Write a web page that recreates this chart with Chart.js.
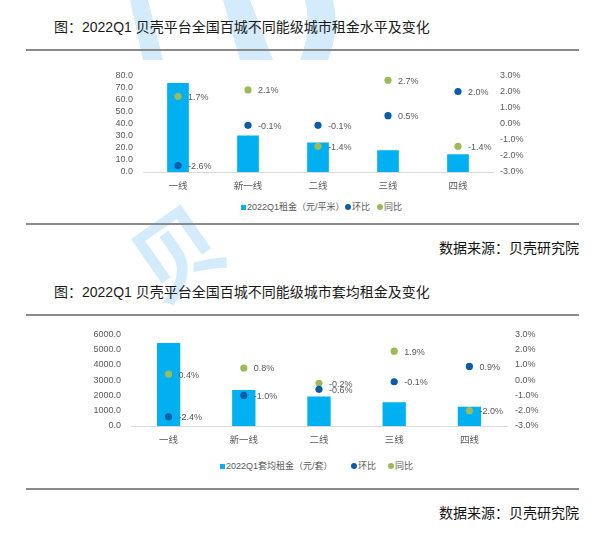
<!DOCTYPE html>
<html><head><meta charset="utf-8">
<script src="https://cdn.jsdelivr.net/npm/chart.js@4.4.1/dist/chart.umd.min.js"></script>
<style>
body{margin:0;background:#fff;width:602px;height:537px;position:relative;overflow:hidden;font-family:"Liberation Sans","Noto Sans CJK SC",sans-serif;}
.abs{position:absolute;}
.title{left:54px;font-size:14px;color:#1a1a1a;white-space:nowrap;line-height:14px;}
.rule{left:26px;width:553px;height:2px;background:#8a8a8a;}
.src{right:23px;font-size:14px;color:#111;line-height:14px;white-space:nowrap;}
.leg{font-size:9px;color:#595959;line-height:10px;white-space:nowrap;font-family:"Liberation Sans Narrow","Liberation Sans","Noto Sans CJK SC",sans-serif;display:flex;align-items:center;}
.sw{display:inline-block;margin-right:1px;}
.wm{position:absolute;left:0;top:0;}
</style></head>
<body>
<svg class="wm" width="602" height="537">
  <g fill="#d3ebfb">
    <polygon points="130,0 148,0 163,60 143,60"/>
    <polygon points="223,0 250,0 273,60 240,60"/>
    <path d="M305 0 L333 0 Q340 30 328 60 L300 60 Q312 30 305 0 Z"/>
  </g>
  <text x="0" y="0" font-size="88" font-weight="bold" fill="#d3ebfb" font-family="Noto Sans CJK SC" transform="translate(160,305) rotate(-35)">贝</text>
</svg>
<div class="abs title" style="top:20px">图：2022Q1 贝壳平台全国百城不同能级城市租金水平及变化</div>
<div class="abs rule" style="top:49px"></div>
<div class="abs" style="left:0;top:60px;width:602px;height:137px"><canvas id="c1"></canvas></div>
<div id="leg1"></div>
<div class="abs rule" style="top:223px"></div>
<div class="abs src" style="top:241px">数据来源：贝壳研究院</div>

<div class="abs title" style="top:285px">图：2022Q1 贝壳平台全国百城不同能级城市套均租金及变化</div>
<div class="abs rule" style="top:314px"></div>
<div class="abs" style="left:0;top:319px;width:602px;height:132px"><canvas id="c2"></canvas></div>
<div id="leg2"></div>
<div class="abs rule" style="top:488px"></div>
<div class="abs src" style="top:506px">数据来源：贝壳研究院</div>

<script>
// ---- data ----
const categories = ['一线', '新一线', '二线', '三线', '四线'];

const rentPerSqmLabel = '2022Q1租金（元/平米）';
const rentPerSqm = [73.7, 30.2, 24.5, 18.0, 14.7];
const rentPerSqmQoQ = [-2.6, -0.1, -0.1, 0.5, 2.0];
const rentPerSqmYoY = [1.7, 2.1, -1.4, 2.7, -1.4];

const rentPerUnitLabel = '2022Q1套均租金（元/套）';
const rentPerUnit = [5440, 2360, 1925, 1555, 1257];
const rentPerUnitQoQ = [-2.4, -1.0, -0.6, -0.1, 0.9];
const rentPerUnitYoY = [0.4, 0.8, -0.2, 1.9, -2.0];

const qoqLabel = '环比';
const yoyLabel = '同比';

const leftTicks1 = {min: 0, max: 80, step: 10};
const leftTicks2 = {min: 0, max: 6000, step: 1000};
const rightTicks = {min: -3, max: 3, step: 1};

// ---- style ----
const BAR = '#00b0f0', QOQ = '#0b5cab', YOY = '#9bbb59';
const TICK_FONT = {family: '"Liberation Sans Narrow","Liberation Sans","Noto Sans CJK SC",sans-serif', size: 9};
const CAT_FONT = {family: '"Noto Sans CJK SC",sans-serif', size: 9.5};
const GREY = '#595959';

const pctLabels = {
  id: 'pctLabels',
  afterDatasetsDraw(chart) {
    const ctx = chart.ctx;
    ctx.save();
    ctx.font = '9px "Liberation Sans Narrow","Liberation Sans",sans-serif';
    ctx.fillStyle = GREY;
    ctx.textBaseline = 'middle';
    ctx.textAlign = 'left';
    [2, 1].forEach(i => {
      const ds = chart.data.datasets[i];
      const meta = chart.getDatasetMeta(i);
      meta.data.forEach((pt, j) => {
        ctx.fillText(ds.data[j].toFixed(1) + '%', pt.x + 10, pt.y + 1);
      });
    });
    ctx.restore();
  }
};

function makeChart(id, barLabel, bars, qoq, yoy, lt, leftW, rightW, leftPad, rightPad) {
  return new Chart(document.getElementById(id), {
    type: 'bar',
    data: {
      labels: categories,
      datasets: [
        {label: barLabel, data: bars, backgroundColor: BAR, yAxisID: 'y', order: 2,
         categoryPercentage: 1, barPercentage: 0.31},
        {type: 'line', label: qoqLabel, data: qoq, yAxisID: 'y1', showLine: false, order: 0,
         pointRadius: 3.6, pointBackgroundColor: QOQ, pointBorderColor: QOQ, pointBorderWidth: 0},
        {type: 'line', label: yoyLabel, data: yoy, yAxisID: 'y1', showLine: false, order: 1,
         pointRadius: 3.6, pointBackgroundColor: YOY, pointBorderColor: YOY, pointBorderWidth: 0}
      ]
    },
    options: {
      responsive: true, maintainAspectRatio: false, animation: false,
      layout: {padding: {top: 14, left: 0, right: 0, bottom: 0}},
      plugins: {legend: {display: false}, tooltip: {enabled: false}},
      scales: {
        x: {
          grid: {display: false, drawTicks: false},
          border: {color: '#d9d9d9', width: 1},
          ticks: {font: CAT_FONT, color: GREY, padding: 8},
          afterFit: s => { s.height = 25; }
        },
        y: {
          position: 'left', min: lt.min, max: lt.max,
          grid: {display: false, drawTicks: false}, border: {display: false},
          ticks: {stepSize: lt.step, font: TICK_FONT, color: GREY, padding: leftPad,
                  autoSkip: false, maxTicksLimit: 20,
                  callback: v => v.toFixed(1)},
          afterFit: s => { s.width = leftW; }
        },
        y1: {
          position: 'right', min: rightTicks.min, max: rightTicks.max,
          grid: {display: false, drawTicks: false}, border: {display: false},
          ticks: {stepSize: rightTicks.step, font: TICK_FONT, color: GREY, padding: rightPad,
                  autoSkip: false, maxTicksLimit: 20,
                  callback: v => v.toFixed(1) + '%'},
          afterFit: s => { s.width = rightW; }
        }
      }
    },
    plugins: [pctLabels]
  });
}

const ch1 = makeChart('c1', rentPerSqmLabel, rentPerSqm, rentPerSqmQoQ, rentPerSqmYoY, leftTicks1, 143, 109, 10, 7);
const ch2 = makeChart('c2', rentPerUnitLabel, rentPerUnit, rentPerUnitQoQ, rentPerUnitYoY, leftTicks2, 131, 95, 10, 8);

function buildLegend(id, chart, top, lefts) {
  const host = document.getElementById(id);
  chart.data.datasets.forEach((ds, i) => {
    const d = document.createElement('div');
    d.className = 'abs leg';
    d.style.top = top + 'px';
    d.style.left = lefts[i] + 'px';
    const sw = document.createElement('span');
    sw.className = 'sw';
    if (i === 0) { sw.style.cssText = `width:5px;height:5px;background:${ds.backgroundColor};`; }
    else { sw.style.cssText = `width:6px;height:6px;border-radius:50%;background:${ds.pointBackgroundColor};`; }
    d.appendChild(sw);
    d.appendChild(document.createTextNode(ds.label));
    host.appendChild(d);
  });
}
buildLegend('leg1', ch1, 202, [241, 345, 377]);
buildLegend('leg2', ch2, 461, [220, 351, 388]);
</script>
</body></html>
